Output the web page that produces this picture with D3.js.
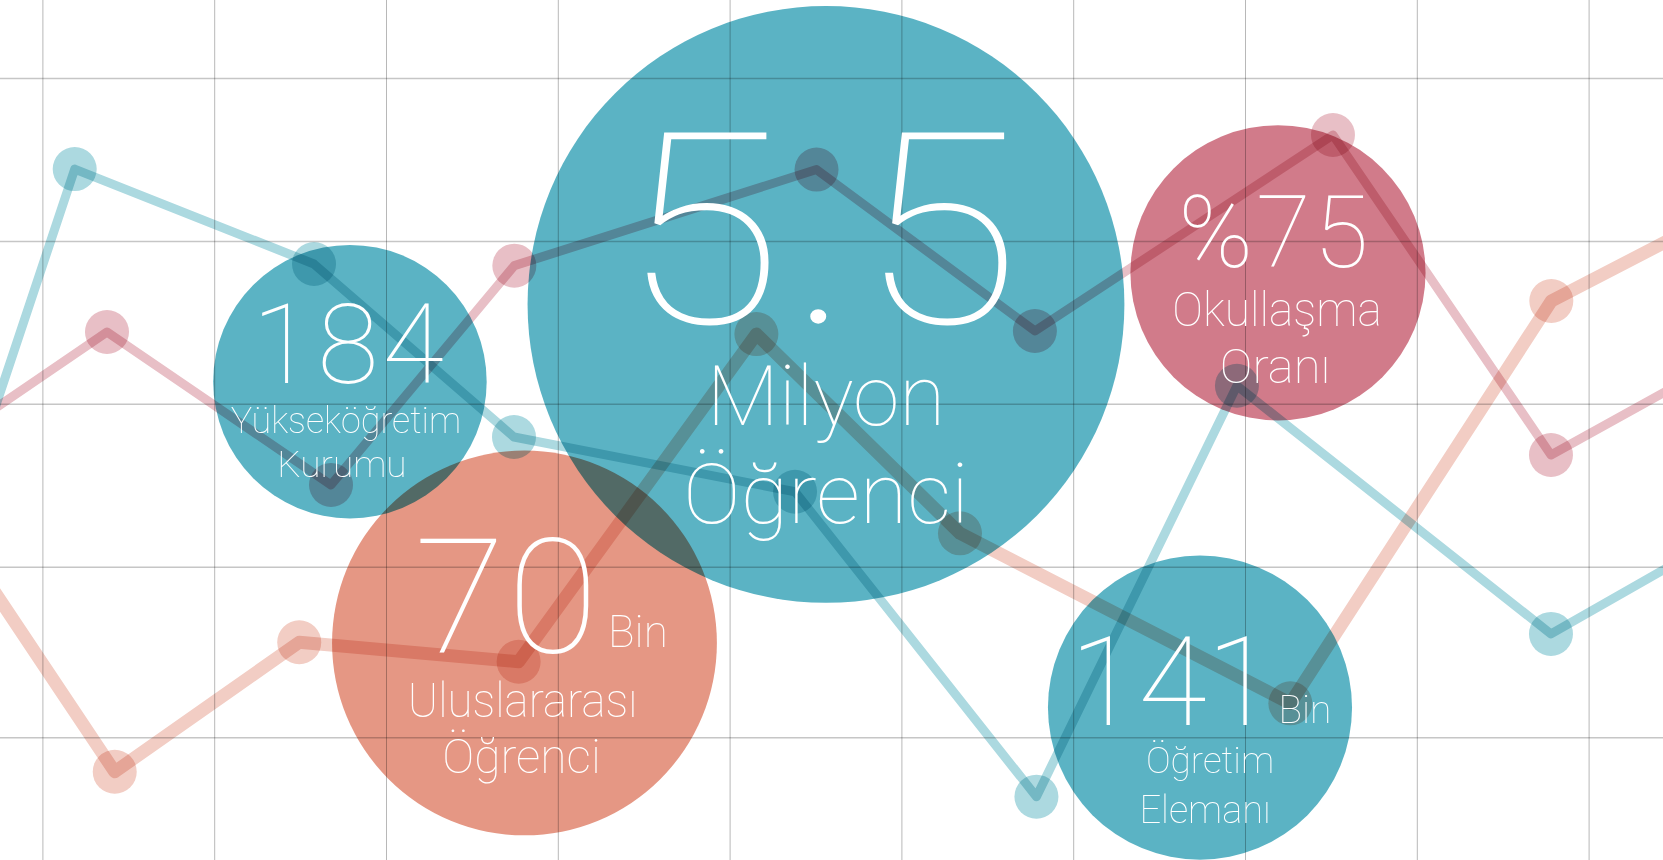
<!DOCTYPE html>
<html><head><meta charset="utf-8">
<script src="https://cdn.jsdelivr.net/npm/d3@7"></script>
<style>
html,body{margin:0;padding:0;background:#fff;overflow:hidden}
svg{display:block}
.mb{mix-blend-mode:multiply}
text.lbl{font-family:"Roboto","Helvetica Neue",sans-serif;font-weight:100;fill:#fff}
</style></head><body>
<svg id="chart" width="1663" height="860"></svg>
<script>
// ---- grid ticks (grid units) ----
const gridCols = [0,1,2,3,4,5,6,7,8,9];
const gridRows = [0,1,2,3,4];

// ---- line series (x in column units, y in row units) ----
const tealX  = [-0.5, 0.188, 1.581, 2.745, 4.381, 5.786, 6.953, 8.781, 10.0];
const tealY  = [1.265, 3.441, 2.858, 1.796, 1.460, -0.348, 2.111, 0.606, 1.320];
const pinkX  = [-0.5, 0.376, 1.680, 2.747, 4.506, 5.777, 7.512, 8.781, 10.0];
const pinkY  = [1.810, 2.441, 1.502, 2.848, 3.438, 2.447, 3.650, 1.686, 2.397];
const peachX = [-0.5, 0.421, 1.495, 2.772, 4.156, 5.341, 7.264, 8.783, 10.0];
const peachY = [1.195, -0.202, 0.557, 0.443, 2.428, 1.205, 0.199, 2.631, 3.296];

// ---- bubbles ----
const bubbleNames = ["ogrenci", "kurum", "uluslararasi", "okullasma", "ogretim"];
const bubbleX     = [4.561, 1.790, 2.806, 7.192, 6.738];
const bubbleY     = [2.610, 2.136, 0.553, 2.804, 0.174];
const bubbleSize  = [1.737, 0.796, 1.120, 0.859, 0.885];
const bubbleValue = ["5.5", "184", "70", "%75", "141"];
const bubbleUnit  = ["Milyon", "", "Bin", "", "Bin"];
const bubbleLine1 = ["Öğrenci", "Yükseköğretim", "Uluslararası", "Okullaşma", "Öğretim"];
const bubbleLine2 = ["", "Kurumu", "Öğrenci", "Oranı", "Elemanı"];

// ---- styles ----
const W = 1663, H = 860;
const bubbleColor = {ogrenci:"#5bb3c4", kurum:"#5bb3c4", uluslararasi:"#e59784", okullasma:"#d17b8a", ogretim:"#5bb3c4"};
const seriesStyle = [
  {x: peachX, y: peachY, color:"#f2cdc4", width:13},
  {x: pinkX,  y: pinkY,  color:"#e8bfc6", width:9},
  {x: tealX,  y: tealY,  color:"#acd9e0", width:9}
];

const x = d3.scaleLinear().domain([0, 9]).range([42.4, 1588.6]);
const y = d3.scaleLinear().domain([0, 1, 4]).range([737.3, 566.7, 78]);
const r = d3.scaleLinear().domain([0, 1]).range([0, x(1) - x(0)]);

const svg = d3.select("#chart");
svg.append("rect").attr("width", W).attr("height", H).attr("fill", "#fff");

// grid via axes
const gx = svg.append("g").attr("class","mb")
  .call(d3.axisBottom(x).tickValues(gridCols).tickSize(H).tickFormat(""));
gx.select(".domain").remove();
gx.selectAll("line").attr("stroke","#b8b8b8").attr("stroke-width",1);
const gy = svg.append("g").attr("class","mb")
  .call(d3.axisRight(y).tickValues(gridRows).tickSize(W).tickFormat(""));
gy.select(".domain").remove();
gy.selectAll("line").attr("stroke","#c6c6c6").attr("stroke-width",1.5);

// lines + dots
const line = d3.line().x(d => x(d[0])).y(d => y(d[1]));
seriesStyle.forEach(s => {
  const pts = s.x.map((v, i) => [v, s.y[i]]);
  svg.append("path").datum(pts).attr("class","mb")
    .attr("d", line).attr("fill","none")
    .attr("stroke", s.color).attr("stroke-width", s.width)
    .attr("stroke-linejoin","round");
  svg.append("g").selectAll("circle").data(pts.slice(1, -1)).join("circle")
    .attr("class","mb")
    .attr("cx", d => x(d[0])).attr("cy", d => y(d[1])).attr("r", 22)
    .attr("fill", s.color);
});

// bubbles
const bubbles = bubbleNames.map((n, i) => ({name:n, x:bubbleX[i], y:bubbleY[i], s:bubbleSize[i],
  value:bubbleValue[i], unit:bubbleUnit[i], l1:bubbleLine1[i], l2:bubbleLine2[i]}));
svg.append("g").selectAll("circle").data(bubbles).join("circle")
  .attr("class","mb")
  .attr("cx", d => x(d.x)).attr("cy", d => y(d.y)).attr("r", d => r(d.s))
  .attr("fill", d => bubbleColor[d.name]);

// text layout (offsets from bubble centre, px)
const layout = {
  ogrenci:      {value:{dx:-2, dy:18.5, fs:268, anchor:"middle", ls:6, sx:1.1},
                 unit:{dx:0, dy:120.5, fs:84, anchor:"middle"},
                 l1:{dx:0, dy:218.5, fs:84, sx:1.03}},
  kurum:        {value:{dx:0, dy:1.3, fs:112, anchor:"middle", ls:4},
                 l1:{dx:-4, dy:51.3, fs:37, sx:0.97}, l2:{dx:-8, dy:95, fs:37}},
  uluslararasi: {value:{dx:76, dy:8.7, fs:160, anchor:"end", ls:2, sx:1.04},
                 unit:{dx:83.6, dy:4, fs:44, anchor:"start"},
                 l1:{dx:-2, dy:73.7, fs:48, sx:0.95}, l2:{dx:-3, dy:130, fs:48}},
  okullasma:    {value:{dx:-3, dy:-6, fs:100, anchor:"middle", ls:3},
                 l1:{dx:-1, dy:53, fs:49, sx:0.94}, l2:{dx:-3, dy:110.5, fs:49}},
  ogretim:      {value:{dx:75, dy:17.3, fs:125, anchor:"end", ls:0},
                 unit:{dx:78.5, dy:15.3, fs:39, anchor:"start"},
                 l1:{dx:10, dy:65.3, fs:37}, l2:{dx:5, dy:115, fs:38}}
};
const tg = svg.append("g");
function put(txt, cx, cy, o) {
  if (!txt || !o) return;
  tg.append("text").attr("class","lbl")
    .attr("transform", `translate(${cx + o.dx},${cy + o.dy}) scale(${o.sx || 1},1)`)
    .attr("text-anchor", o.anchor || "middle")
    .style("font-size", o.fs + "px")
    .style("letter-spacing", (o.ls || 0) + "px")
    .text(txt);
}
bubbles.forEach(b => {
  const L = layout[b.name], cx = x(b.x), cy = y(b.y);
  put(b.value, cx, cy, L.value);
  put(b.unit, cx, cy, L.unit);
  put(b.l1, cx, cy, L.l1);
  put(b.l2, cx, cy, L.l2);
});
</script>
</body></html>
